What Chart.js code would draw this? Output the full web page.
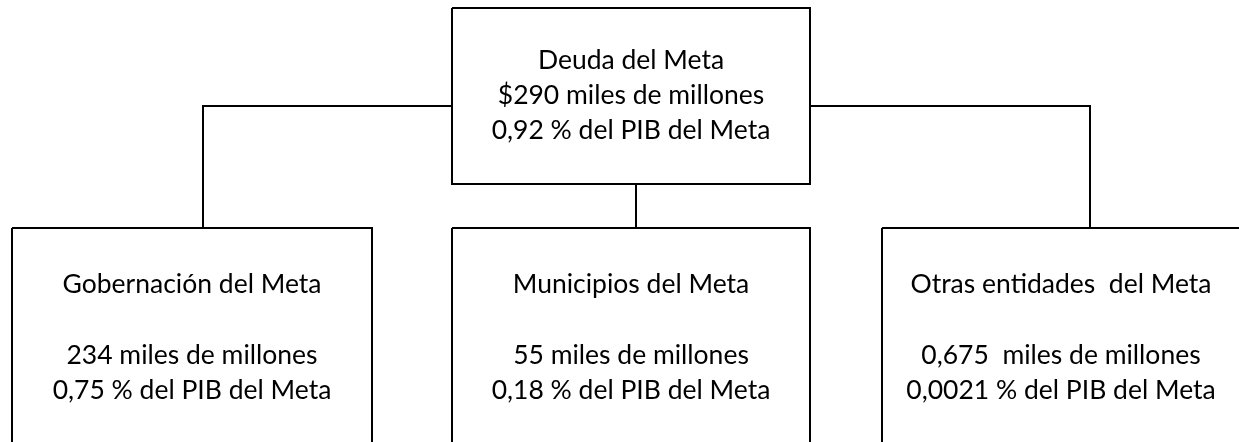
<!DOCTYPE html>
<html><head><meta charset="utf-8">
<script src="https://cdn.jsdelivr.net/npm/chart.js@4/dist/chart.umd.min.js"></script>
<style>html,body{margin:0;padding:0;background:#fff;overflow:hidden}</style>
</head><body>
<canvas id="c" width="1239" height="442"></canvas>
<script>
// ---- data ----
const rootName = "Deuda del Meta";
const rootValue = 290;          // miles de millones
const rootPct = 0.92;           // % del PIB del Meta
const childNames = ["Gobernación del Meta", "Municipios del Meta", "Otras entidades  del Meta"];
const childValues = [234, 55, 0.675];     // miles de millones
const childPcts = [0.75, 0.18, 0.0021];   // % del PIB del Meta

// ---- layout (diagram units = pixels of the 1239x442 page) ----
const W = 1239, H = 442;
const rootBox = {x0: 452, x1: 810, y0: 8, y1: 184};
const childBoxes = [
  {x0: 12, x1: 372}, {x0: 452, x1: 810}, {x0: 882, x1: 1262}
];
const childTop = 228, childBottom = 470;
const busY = 106;
const childAnchors = [203, 636, 1090];
const FONT = "Lato, 'Open Sans', sans-serif";
const FONT_SIZE = 26.5;
const rootLineY = [60, 95, 130];
const childLineY = [284, 355, 390];

const fmt = v => String(v).replace('.', ',');

function boxPath(b, y0, y1) {
  return [{x:b.x0,y:y0},{x:b.x1,y:y0},{x:b.x1,y:y1},{x:b.x0,y:y1},{x:b.x0,y:y0}];
}
const lineStyle = {borderColor:'#000', borderWidth:2, pointRadius:0, fill:false, tension:0, showLine:true, clip:false};
const datasets = [];
datasets.push(Object.assign({data: boxPath(rootBox, rootBox.y0, rootBox.y1)}, lineStyle));
childBoxes.forEach(b => datasets.push(Object.assign({data: boxPath(b, childTop, childBottom)}, lineStyle)));
// connectors
datasets.push(Object.assign({data: [{x:childAnchors[0],y:childTop},{x:childAnchors[0],y:busY},{x:rootBox.x0,y:busY}]}, lineStyle));
datasets.push(Object.assign({data: [{x:rootBox.x1,y:busY},{x:childAnchors[2],y:busY},{x:childAnchors[2],y:childTop}]}, lineStyle));
datasets.push(Object.assign({data: [{x:childAnchors[1],y:rootBox.y1},{x:childAnchors[1],y:childTop}]}, lineStyle));

const textPlugin = {
  id: 'boxText',
  afterDatasetsDraw(chart) {
    const {ctx, scales:{x, y}} = chart;
    ctx.save();
    ctx.fillStyle = '#000';
    ctx.font = FONT_SIZE + 'px ' + FONT;
    ctx.textAlign = 'center';
    ctx.textBaseline = 'middle';
    const rcx = x.getPixelForValue((rootBox.x0 + rootBox.x1) / 2);
    const rootLines = [rootName, '$' + fmt(rootValue) + ' miles de millones', fmt(rootPct) + ' % del PIB del Meta'];
    rootLines.forEach((t, i) => ctx.fillText(t, rcx, y.getPixelForValue(rootLineY[i])));
    childBoxes.forEach((b, k) => {
      const cx = x.getPixelForValue(k === 2 ? (b.x0 + 1239 + 1) / 2 : (b.x0 + b.x1) / 2);
      const sep = k === 2 ? '  ' : ' ';
      const lines = [childNames[k], fmt(childValues[k]) + sep + 'miles de millones', fmt(childPcts[k]) + ' % del PIB del Meta'];
      lines.forEach((t, i) => ctx.fillText(t, cx, y.getPixelForValue(childLineY[i])));
    });
    ctx.restore();
  }
};

new Chart(document.getElementById('c'), {
  type: 'scatter',
  data: {datasets},
  options: {
    responsive: false, animation: false, devicePixelRatio: 1,
    layout: {padding: 0},
    plugins: {legend: {display:false}, tooltip: {enabled:false}},
    scales: {
      x: {type:'linear', min:0, max:W, display:false},
      y: {type:'linear', min:0, max:H, reverse:true, display:false}
    }
  },
  plugins: [textPlugin]
});
</script>
</body></html>
